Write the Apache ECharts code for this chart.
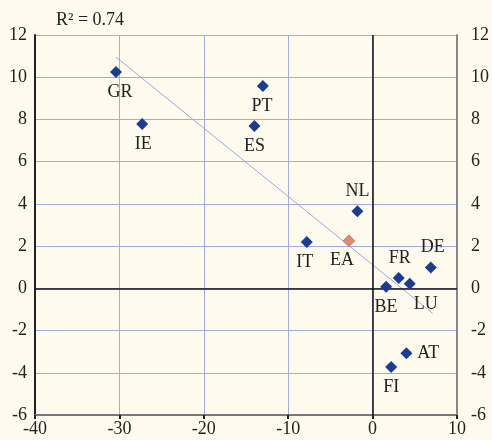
<!DOCTYPE html>
<html>
<head>
<meta charset="utf-8">
<script src="https://cdn.jsdelivr.net/npm/echarts@6/dist/echarts.min.js"></script>
<style>
  html, body { margin: 0; padding: 0; background: #fefbee; }
  #chart { width: 492px; height: 440px; }
</style>
</head>
<body>
<div id="chart"></div>
<script>
// country codes, x and y values
const countries = ['GR', 'IE', 'PT', 'ES', 'NL', 'IT', 'DE', 'FR', 'LU', 'BE', 'AT', 'FI']
const xValues = [-30.4, -27.3, -13.0, -14.0, -1.8, -7.8, 6.9, 3.1, 4.4, 1.6, 4.0, 2.2]
const yValues = [10.25, 7.78, 9.58, 7.69, 3.65, 2.19, 0.99, 0.49, 0.22, 0.08, -3.08, -3.73]
// label placement per country
const labelPos = ['bottom', 'bottom', 'bottom', 'bottom', 'top', 'bottom', 'top', 'top', 'bottom', 'bottom', 'right', 'bottom']
const labelShift = [[4, 0], [1, 0], [-1, 0], [0, 0], [0, 0], [-2, 0], [2, 0], [1, 0], [16, 1], [0, 1], [0, 0], [0, 0]]

const euroArea = { name: 'EA', x: -2.8, y: 2.25 }
const trendLine = [[-30.4, 10.95], [7.1, -1.18]]
const r2Text = 'R² = 0.74'

const yTicks = [-6, -4, -2, 0, 2, 4, 6, 8, 10, 12]
const xTicks = [-40, -30, -20, -10, 0, 10]

const font = 'Liberation Serif'
const textColor = '#222'
const gridColor = '#a3abe3'

const chart = echarts.init(document.getElementById('chart'))

const countryData = countries.map((c, i) => ({
  name: c,
  value: [xValues[i], yValues[i]],
  label: { position: labelPos[i], offset: labelShift[i] }
}))

const option = {
  backgroundColor: '#fefbee',
  animation: false,
  title: {
    text: r2Text,
    left: 51,
    top: 6,
    textStyle: { fontFamily: font, fontSize: 18, fontWeight: 'normal', color: textColor }
  },
  grid: { left: 35, right: 32, top: 35, bottom: 25 },
  xAxis: {
    type: 'value',
    min: xTicks[0],
    max: xTicks[xTicks.length - 1],
    interval: 10,
    axisLine: { onZero: false, lineStyle: { color: '#777', width: 2 } },
    axisTick: { show: true, length: 4, lineStyle: { color: '#222', width: 2 } },
    axisLabel: { fontFamily: font, fontSize: 18, color: textColor, margin: 5 },
    splitLine: { show: true, lineStyle: { color: gridColor, width: 1 } }
  },
  yAxis: [
    {
      type: 'value',
      position: 'left',
      min: yTicks[0],
      max: yTicks[yTicks.length - 1],
      interval: 2,
      axisLine: { show: true, onZero: false, lineStyle: { color: '#222', width: 2 } },
      axisTick: { show: false },
      axisLabel: { fontFamily: font, fontSize: 18, color: textColor, margin: 8 },
      splitLine: { show: true, lineStyle: { color: gridColor, width: 1 } }
    },
    {
      type: 'value',
      position: 'right',
      min: yTicks[0],
      max: yTicks[yTicks.length - 1],
      interval: 2,
      axisLine: { show: true, onZero: false, lineStyle: { color: '#888', width: 2 } },
      axisTick: { show: false },
      axisLabel: { fontFamily: font, fontSize: 18, color: textColor, margin: 14 },
      splitLine: { show: false }
    }
  ],
  series: [
    {
      type: 'line',
      data: trendLine,
      symbol: 'none',
      lineStyle: { color: '#9ea7e6', width: 1 },
      z: 3,
      markLine: {
        silent: true,
        symbol: 'none',
        label: { show: false },
        lineStyle: { color: '#111', width: 1.5, type: 'solid' },
        data: [{ xAxis: 0 }, { yAxis: 0 }]
      }
    },
    {
      type: 'scatter',
      symbol: 'diamond',
      symbolSize: 12,
      itemStyle: { color: '#1c3c92', opacity: 1 },
      label: {
        show: true,
        formatter: '{b}',
        fontFamily: font,
        fontSize: 18,
        color: textColor,
        distance: 5
      },
      data: countryData,
      z: 5
    },
    {
      type: 'scatter',
      symbol: 'diamond',
      symbolSize: 12,
      itemStyle: { color: '#e08a72', opacity: 1, borderColor: '#c0503a', borderWidth: 0.5 },
      label: {
        show: true,
        formatter: '{b}',
        position: 'bottom',
        offset: [-7, 0],
        distance: 4,
        fontFamily: font,
        fontSize: 18,
        color: textColor
      },
      data: [{ name: euroArea.name, value: [euroArea.x, euroArea.y] }],
      z: 5
    }
  ]
}

chart.setOption(option)
</script>
</body>
</html>
